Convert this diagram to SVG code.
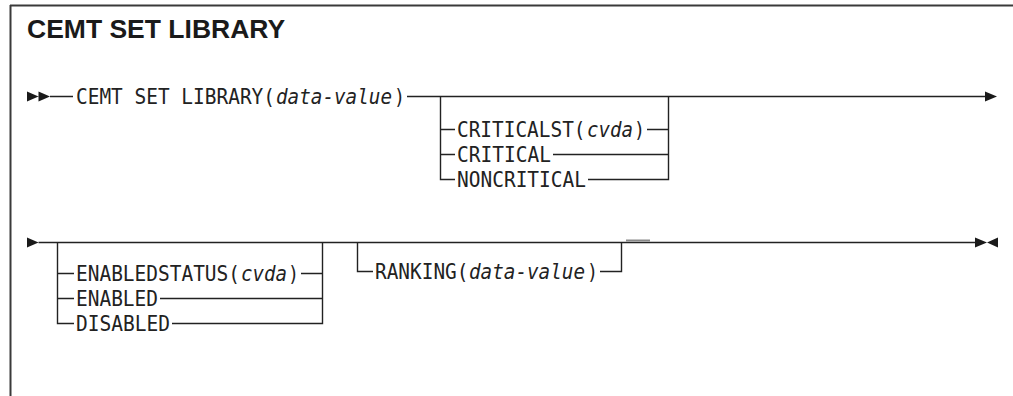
<svg xmlns="http://www.w3.org/2000/svg" width="1013" height="396" viewBox="0 0 1013 396">
<defs>
<style>
.frame{fill:none;stroke:#3a3a3a;stroke-width:2}
.ln{fill:none;stroke:#222;stroke-width:1.4}
.ah{fill:#1a1a1a}
.mono{font-family:"DejaVu Sans Mono","Liberation Mono",monospace;font-size:21px;fill:#222}
.it{font-style:italic}
.title{font-family:"Liberation Sans",Arial,sans-serif;font-weight:bold;font-size:26.5px;fill:#1a1a1a}
</style>
</defs>
<rect width="1013" height="396" fill="#fff"/>
<g id="frame">
<path class="frame" d="M10,5.5 H1013 M10.5,5 V396"/>
<text class="title" x="27" y="38">CEMT SET LIBRARY</text>
</g>
<g id="connectors">
<path class="ah" d="M27,91.5 L38.5,96.5 L27,101.5 Z M38.5,91.5 L50,96.5 L38.5,101.5 Z"/>
<path class="ln" d="M50,96.5 H73 M407,96.5 H986"/>
<path class="ah" d="M985,91.5 L997,96.5 L985,101.5 Z"/>
<path class="ln" d="M440.5,96.5 V179.5 H455 M440.5,129.5 H455 M440.5,154.5 H455"/>
<path class="ln" d="M647,129.5 H668.5 M553,154.5 H668.5 M588,179.5 H668.5 V96.5"/>
<path class="ah" d="M27,237.5 L38.5,242.5 L27,247.5 Z"/>
<path class="ln" d="M38.5,242.5 H976"/>
<path class="ah" d="M975,237.5 L987,242.5 L975,247.5 Z M998,237.5 L987,242.5 L998,247.5 Z"/>
<path class="ln" d="M57.5,242.5 V323.5 H74 M57.5,273.5 H74 M57.5,298.5 H74"/>
<path class="ln" d="M301,273.5 H322.5 M160,298.5 H322.5 M172,323.5 H322.5 V242.5"/>
<path class="ln" d="M357.5,242.5 V271.5 H373 M600,271.5 H621.5 V242.5"/>
<path d="M626,240.5 H650" fill="none" stroke="#888" stroke-width="2"/>
</g>
<g id="start">
<text class="mono" x="76" y="104" textLength="199" lengthAdjust="spacingAndGlyphs">CEMT SET LIBRARY(</text>
<text class="mono it" x="276" y="104" textLength="116" lengthAdjust="spacingAndGlyphs">data-value</text>
<text class="mono" x="394" y="104" textLength="11" lengthAdjust="spacingAndGlyphs">)</text>
</g>
<g id="critical-group">
<text class="mono" x="457" y="137" textLength="128.5" lengthAdjust="spacingAndGlyphs">CRITICALST(</text>
<text class="mono it" x="587" y="137" textLength="46" lengthAdjust="spacingAndGlyphs">cvda</text>
<text class="mono" x="634" y="137" textLength="11" lengthAdjust="spacingAndGlyphs">)</text>
<text class="mono" x="457" y="162" textLength="94" lengthAdjust="spacingAndGlyphs">CRITICAL</text>
<text class="mono" x="457" y="187" textLength="129" lengthAdjust="spacingAndGlyphs">NONCRITICAL</text>
</g>
<g id="enabled-group">
<text class="mono" x="76" y="281" textLength="164" lengthAdjust="spacingAndGlyphs">ENABLEDSTATUS(</text>
<text class="mono it" x="241" y="281" textLength="46" lengthAdjust="spacingAndGlyphs">cvda</text>
<text class="mono" x="288" y="281" textLength="11" lengthAdjust="spacingAndGlyphs">)</text>
<text class="mono" x="76" y="306" textLength="82" lengthAdjust="spacingAndGlyphs">ENABLED</text>
<text class="mono" x="76" y="331" textLength="94" lengthAdjust="spacingAndGlyphs">DISABLED</text>
</g>
<g id="ranking">
<text class="mono" x="375" y="279" textLength="93.5" lengthAdjust="spacingAndGlyphs">RANKING(</text>
<text class="mono it" x="469" y="279" textLength="116" lengthAdjust="spacingAndGlyphs">data-value</text>
<text class="mono" x="587" y="279" textLength="11" lengthAdjust="spacingAndGlyphs">)</text>
</g>
</svg>
